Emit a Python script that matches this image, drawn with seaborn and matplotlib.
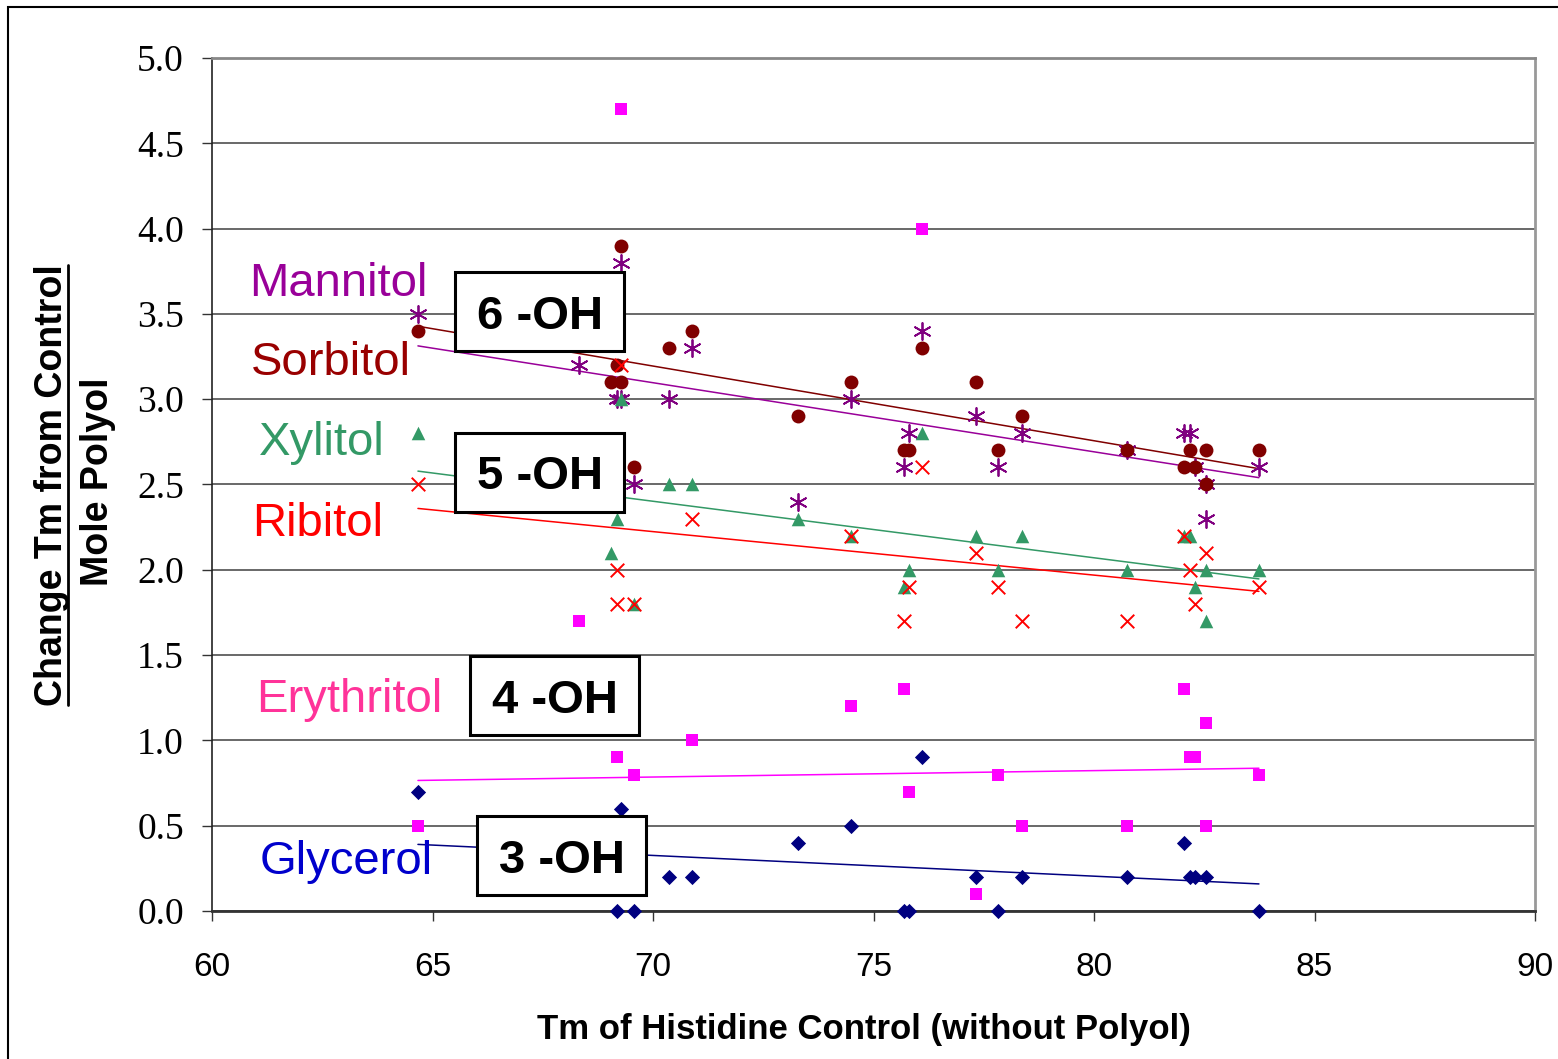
import numpy as np
import pandas as pd
import seaborn as sns
import matplotlib.pyplot as plt
from matplotlib.patches import Rectangle
from matplotlib.lines import Line2D

# Tm of histidine control (x) and change in Tm per mole polyol (y)
sorb_x = [64.67, 69.27, 69.05, 69.18, 69.27, 69.57, 70.36, 70.88, 73.29, 74.49, 75.69, 75.80,
          76.10, 77.32, 77.82, 78.37, 80.75, 82.04, 82.18, 82.29, 82.54, 82.54, 83.74]
sorb_y = [3.4, 3.9, 3.1, 3.2, 3.1, 2.6, 3.3, 3.4, 2.9, 3.1, 2.7, 2.7,
          3.3, 3.1, 2.7, 2.9, 2.7, 2.6, 2.7, 2.6, 2.7, 2.5, 2.7]

mann_x = [64.67, 68.32, 69.27, 69.18, 69.27, 69.57, 70.36, 70.88, 73.29, 74.49, 75.69, 75.80,
          76.10, 77.32, 77.82, 78.37, 80.75, 82.04, 82.18, 82.29, 82.54, 82.54, 83.74]
mann_y = [3.5, 3.2, 3.8, 3.0, 3.0, 2.5, 3.0, 3.3, 2.4, 3.0, 2.6, 2.8,
          3.4, 2.9, 2.6, 2.8, 2.7, 2.8, 2.8, 2.6, 2.5, 2.3, 2.6]

xyl_x = [64.67, 69.05, 69.18, 69.27, 69.57, 70.36, 70.88, 73.29, 74.49, 75.69, 75.80,
         76.10, 77.32, 77.82, 78.37, 80.75, 82.04, 82.18, 82.29, 82.54, 82.54, 83.74]
xyl_y = [2.8, 2.1, 2.3, 3.0, 1.8, 2.5, 2.5, 2.3, 2.2, 1.9, 2.0,
         2.8, 2.2, 2.0, 2.2, 2.0, 2.2, 2.2, 1.9, 2.0, 1.7, 2.0]

rib_x = [64.67, 69.18, 69.18, 69.27, 69.57, 70.88, 74.49, 75.69, 75.80, 76.10, 77.32,
         77.82, 78.37, 80.75, 82.04, 82.18, 82.29, 82.54, 83.74]
rib_y = [2.5, 2.0, 1.8, 3.2, 1.8, 2.3, 2.2, 1.7, 1.9, 2.6, 2.1,
         1.9, 1.7, 1.7, 2.2, 2.0, 1.8, 2.1, 1.9]

ery_x = [64.67, 69.18, 69.57, 70.88, 74.49, 75.69, 75.80, 77.32,
         77.82, 78.37, 80.75, 82.04, 82.18, 82.29, 82.54, 82.54, 83.74]
ery_y = [0.5, 0.9, 0.8, 1.0, 1.2, 1.3, 0.7, 0.1,
         0.8, 0.5, 0.5, 1.3, 0.9, 0.9, 1.1, 0.5, 0.8]
# erythritol points left out of the trendline
ery_out_x = [68.32, 69.27, 76.10]
ery_out_y = [1.7, 4.7, 4.0]

gly_x = [64.67, 69.18, 69.27, 69.57, 70.36, 70.88, 73.29, 74.49, 75.69, 75.80, 76.10,
         77.32, 77.82, 78.37, 80.75, 82.04, 82.18, 82.29, 82.54, 83.74]
gly_y = [0.7, 0.0, 0.6, 0.0, 0.2, 0.2, 0.4, 0.5, 0.0, 0.0, 0.9,
         0.2, 0.0, 0.2, 0.2, 0.4, 0.2, 0.2, 0.2, 0.0]

names = ["Mannitol", "Sorbitol", "Xylitol", "Ribitol", "Erythritol", "Glycerol"]
oh_labels = ["6 -OH", "5 -OH", "4 -OH", "3 -OH"]
y_ticks = [0.0, 0.5, 1.0, 1.5, 2.0, 2.5, 3.0, 3.5, 4.0, 4.5, 5.0]
x_ticks = [60, 65, 70, 75, 80, 85, 90]

series = [
    # x, y, marker, marker colour, line colour, label colour, text pos (x, baseline y)
    (mann_x, mann_y, (6, 2, 0), "#800080", "#990099", "#990099", (60.84, 3.605)),
    (sorb_x, sorb_y, "o", "#800000", "#800000", "#990000", (60.88, 3.142)),
    (xyl_x, xyl_y, "^", "#339966", "#339966", "#339966", (61.06, 2.673)),
    (rib_x, rib_y, "x", "#FF0000", "#FF0000", "#FF0000", (60.91, 2.198)),
    (ery_x, ery_y, "s", "#FF00FF", "#FF00FF", "#FF3399", (61.00, 1.166)),
    (gly_x, gly_y, "D", "#000080", "#000080", "#0000CC", (61.07, 0.217)),
]
sizes = {"o": 100, "^": 95, "s": 85, "D": 60}

sns.set_style("white", {"text.color": "black", "xtick.color": "black",
                        "ytick.color": "black", "axes.labelcolor": "black"})
fig = plt.figure(figsize=(15.58, 10.59), dpi=100)
ax = fig.add_axes([212 / 1558, 1 - 911 / 1059, (1535 - 212) / 1558, (911 - 58) / 1059])

for (xs, ys, mk, mc, lc, tc, pos), name in zip(series, names):
    df = pd.DataFrame({"tm": xs, "dtm": ys})
    sns.regplot(data=df, x="tm", y="dtm", ax=ax, scatter=False, ci=None, truncate=True,
                line_kws=dict(color=lc, lw=1.1, zorder=2))
    if name == "Erythritol":
        df = pd.concat([df, pd.DataFrame({"tm": ery_out_x, "dtm": ery_out_y})])
    if mk == "x":
        sns.scatterplot(data=df, x="tm", y="dtm", ax=ax, marker=mk, color=mc,
                        s=95, linewidth=1.4, clip_on=False, zorder=3)
    elif isinstance(mk, tuple):
        sns.scatterplot(data=df, x="tm", y="dtm", ax=ax, marker=mk, color=mc,
                        s=150, linewidth=1.3, clip_on=False, zorder=3)
    else:
        sns.scatterplot(data=df, x="tm", y="dtm", ax=ax, marker=mk, color=mc,
                        edgecolor=mc, s=sizes[mk], linewidth=0, clip_on=False, zorder=3)
    ax.text(pos[0], pos[1], name, color=tc, fontsize=34, family="Liberation Sans",
            ha="left", va="baseline", zorder=4)

# -OH group boxes
box_centres = [(67.43, 3.514), (67.43, 2.573), (67.77, 1.263), (67.93, 0.325)]
bw, bh = 169 / 44.1, 79 / 170.6
for lab, (cx, cy) in zip(oh_labels, box_centres):
    ax.add_patch(Rectangle((cx - bw / 2, cy - bh / 2), bw, bh, facecolor="white",
                           edgecolor="black", lw=2.2, zorder=5))
    ax.text(cx, cy - 0.03, lab, fontsize=34, fontweight="bold", family="Liberation Sans",
            color="black", ha="center", va="center", zorder=6)

ax.set_xlim(60, 90)
ax.set_ylim(0, 5)
ax.set_xticks(x_ticks)
ax.set_yticks(y_ticks)
ax.set_yticklabels([f"{v:.1f}" for v in y_ticks], family="Liberation Serif", fontsize=27)
ax.set_xticklabels([str(v) for v in x_ticks], family="Liberation Sans", fontsize=24)
ax.tick_params(axis="x", direction="out", length=7.2, width=1.0, color="#333333",
               labelcolor="black", pad=22, bottom=True)
ax.tick_params(axis="y", direction="out", length=7.2, width=1.0, color="#333333",
               labelcolor="black", pad=13, left=True)
ax.set_xlabel("")
ax.set_ylabel("")

ax.yaxis.grid(True, color="#404040", lw=1.1)
ax.xaxis.grid(False)
ax.set_axisbelow(True)
ax.spines["left"].set_color("#222222")
ax.spines["left"].set_linewidth(1.2)
ax.spines["bottom"].set_color("#333333")
ax.spines["bottom"].set_linewidth(2.0)
ax.spines["top"].set_color("#888888")
ax.spines["top"].set_linewidth(2.0)
ax.spines["right"].set_color("#999999")
ax.spines["right"].set_linewidth(2.0)

fig.text(864 / 1558, 1 - 1030 / 1059, "Tm of Histidine Control (without Polyol)",
         family="Liberation Sans", fontweight="bold", fontsize=25, color="black",
         ha="center", va="center")
fig.text(52 / 1558, 1 - 485 / 1059, "Change Tm from Control", family="Liberation Sans",
         fontweight="bold", fontsize=27, rotation=90, color="black", ha="center", va="center")
fig.text(98 / 1558, 1 - 482 / 1059, "Mole Polyol", family="Liberation Sans",
         fontweight="bold", fontsize=27, rotation=90, color="black", ha="center", va="center")
fig.add_artist(Line2D([68 / 1558, 68 / 1558], [1 - 265 / 1059, 1 - 705 / 1059],
                      transform=fig.transFigure, color="black", lw=2))

# outer frame of the original figure
fig.add_artist(Rectangle((8 / 1558, -0.05), 1.1, 1.05 - 7 / 1059, transform=fig.transFigure,
                         fill=False, edgecolor="black", lw=1.5, clip_on=False))

fig.savefig("out.png", dpi=100)
